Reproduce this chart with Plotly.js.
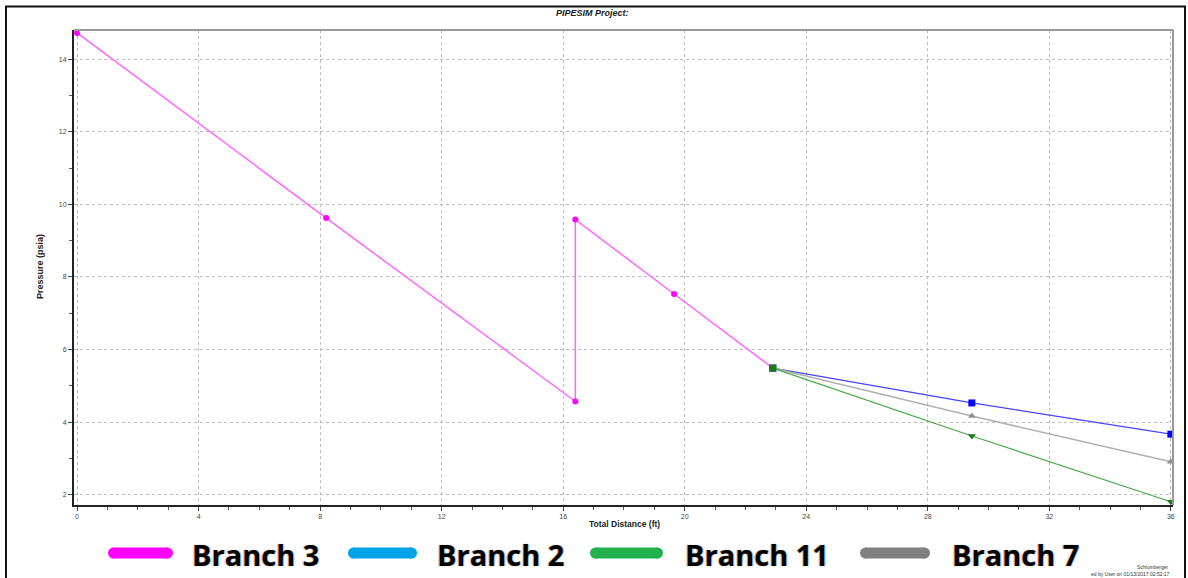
<!DOCTYPE html>
<html>
<head>
<meta charset="utf-8">
<script src="https://cdn.plot.ly/plotly-3.0.1.min.js"></script>
<style>html,body{margin:0;padding:0;background:#fff;}#chart{width:1188px;height:578px;}</style>
</head>
<body>
<div id="chart"></div>
<script>
// ---- Data ----
const seriesNames = ["Branch 3", "Branch 2", "Branch 11", "Branch 7"];
const branch3Distance = [0, 8.2, 16.4, 16.4, 19.65, 22.9];
const branch3Pressure = [14.72, 9.62, 4.57, 9.58, 7.53, 5.49];
const branchDistance = [22.9, 29.45, 36];
const branch2Pressure = [5.49, 4.53, 3.67];
const branch7Pressure = [5.49, 4.17, 2.91];
const branch11Pressure = [5.49, 3.62, 1.81];
const xTicks = [0, 4, 8, 12, 16, 20, 24, 28, 32, 36];
const yTicks = [2, 4, 6, 8, 10, 12, 14];

// ---- Layout helpers (pixel -> paper) ----
const W = 1188, H = 578, L = 74, R = 15, T = 30, B = 73;
const PW = W - L - R, PH = H - T - B;
const px = x => (x - L) / PW;
const py = y => (H - B - y) / PH;

const traces = [
  {x: branch3Distance, y: branch3Pressure, name: seriesNames[0], mode: "lines+markers",
   line: {color: "#ff66ff", width: 1.5}, marker: {color: "#ff00ff", size: 6, symbol: "circle"}},
  {x: branchDistance, y: branch2Pressure, name: seriesNames[1], mode: "lines+markers",
   line: {color: "#4444ff", width: 1.2}, marker: {color: "#0000ff", size: 7, symbol: "square"}},
  {x: branchDistance, y: branch7Pressure, name: seriesNames[3], mode: "lines+markers",
   line: {color: "#b0b0b0", width: 1.5}, marker: {color: "#909090", size: 7, symbol: "triangle-up"}},
  {x: branchDistance, y: branch11Pressure, name: seriesNames[2], mode: "lines+markers",
   line: {color: "#44aa44", width: 1.2},
   marker: {color: "#1a7a1a", size: 7, symbol: ["square", "triangle-down", "triangle-down"]}}
];

// custom legend (swatch + label) positions in pixels
const legendColors = ["#ff00ff", "#00a2e8", "#22b14c", "#808080"];
const legendSwatch = [[108, 173], [348, 417], [590, 663], [860, 930]];
const legendText = [192, 437, 685, 952];
const legendY = 553;

const shapes = [
  // outer frame
  {type: "rect", xref: "paper", yref: "paper", x0: px(6), x1: px(1185), y0: py(6.5), y1: py(600),
   line: {color: "#111", width: 2}},
  // grey top/right border of plot area
  {type: "line", xref: "paper", yref: "paper", x0: 0, x1: 1, y0: 1, y1: 1, line: {color: "#999", width: 2}},
  {type: "line", xref: "paper", yref: "paper", x0: 1, x1: 1, y0: 0, y1: 1, line: {color: "#999", width: 2}}
];
const small = {family: "Liberation Sans, Arial", size: 5, color: "#333"};
const annotations = [
  {text: "<b><i>PIPESIM Project:</i></b>", xref: "paper", yref: "paper", x: px(592), y: py(13),
   xanchor: "center", yanchor: "middle",
   showarrow: false, font: {family: "Liberation Sans, Arial", size: 9, color: "#222"}},
  {text: "<b>Pressure (psia)</b>", xref: "paper", yref: "paper", x: px(40), y: py(267), textangle: -90,
   xanchor: "center", yanchor: "middle",
   showarrow: false, font: {family: "Liberation Sans, Arial", size: 9, color: "#222"}},
  {text: "<b>Total Distance (ft)</b>", xref: "paper", yref: "paper", x: px(624), y: py(524),
   xanchor: "center", yanchor: "middle",
   showarrow: false, font: {family: "Liberation Sans, Arial", size: 8.5, color: "#222"}},
  {text: "Schlumberger", xref: "paper", yref: "paper", x: px(1170), y: py(567), xanchor: "right", yanchor: "middle",
   showarrow: false, font: small},
  {text: "ed by User on 01/13/2017 02:52:17", xref: "paper", yref: "paper", x: px(1172), y: py(574),
   xanchor: "right", yanchor: "middle", showarrow: false, font: small}
];
seriesNames.forEach((n, i) => {
  shapes.push({type: "line", xref: "paper", yref: "paper",
    x0: px(legendSwatch[i][0] + 5), x1: px(legendSwatch[i][1] - 5), y0: py(legendY), y1: py(legendY),
    line: {color: legendColors[i], width: 11}});
  shapes.push({type: "circle", xref: "paper", yref: "paper",
    x0: px(legendSwatch[i][0]), x1: px(legendSwatch[i][0] + 11), y0: py(legendY - 5.5), y1: py(legendY + 5.5),
    fillcolor: legendColors[i], line: {width: 0}});
  shapes.push({type: "circle", xref: "paper", yref: "paper",
    x0: px(legendSwatch[i][1] - 11), x1: px(legendSwatch[i][1]), y0: py(legendY - 5.5), y1: py(legendY + 5.5),
    fillcolor: legendColors[i], line: {width: 0}});
  annotations.push({text: "<b>" + n + "</b>", xref: "paper", yref: "paper",
    x: px(legendText[i] - 2), y: py(legendY + 1), xanchor: "left", yanchor: "middle", showarrow: false,
    font: {family: "Open Sans, Noto Sans, sans-serif", size: 29, color: "#000",
           shadow: "-1px 0 1px rgba(230,150,60,0.8), 1px 0 1px rgba(80,170,240,0.7)"}});
});

const axisCommon = {
  showline: true, linecolor: "#222", linewidth: 2, zeroline: false,
  showgrid: true, gridcolor: "#bdbdbd", griddash: "dot", gridwidth: 1,
  ticks: "outside", ticklen: 4, tickcolor: "#444", tickwidth: 1,
  tickfont: {family: "Liberation Sans, Arial", size: 7, color: "#444"},
  fixedrange: true
};

const layout = {
  width: W, height: H,
  margin: {l: L, r: R, t: T, b: B, pad: 0},
  paper_bgcolor: "#fff", plot_bgcolor: "#fff",
  showlegend: false,
  xaxis: Object.assign({}, axisCommon, {range: [-0.1, 36.07], tickvals: xTicks, ticktext: xTicks.map(String),
    minor: {dtick: 1, ticks: "outside", ticklen: 3, tickcolor: "#555", showgrid: false}}),
  yaxis: Object.assign({}, axisCommon, {range: [1.72, 14.8], tickvals: yTicks, ticktext: yTicks.map(String),
    minor: {dtick: 1, ticks: "outside", ticklen: 3, tickcolor: "#555", showgrid: false}}),
  shapes: shapes,
  annotations: annotations
};

Plotly.newPlot("chart", traces, layout, {displayModeBar: false, staticPlot: true});
</script>
</body>
</html>
